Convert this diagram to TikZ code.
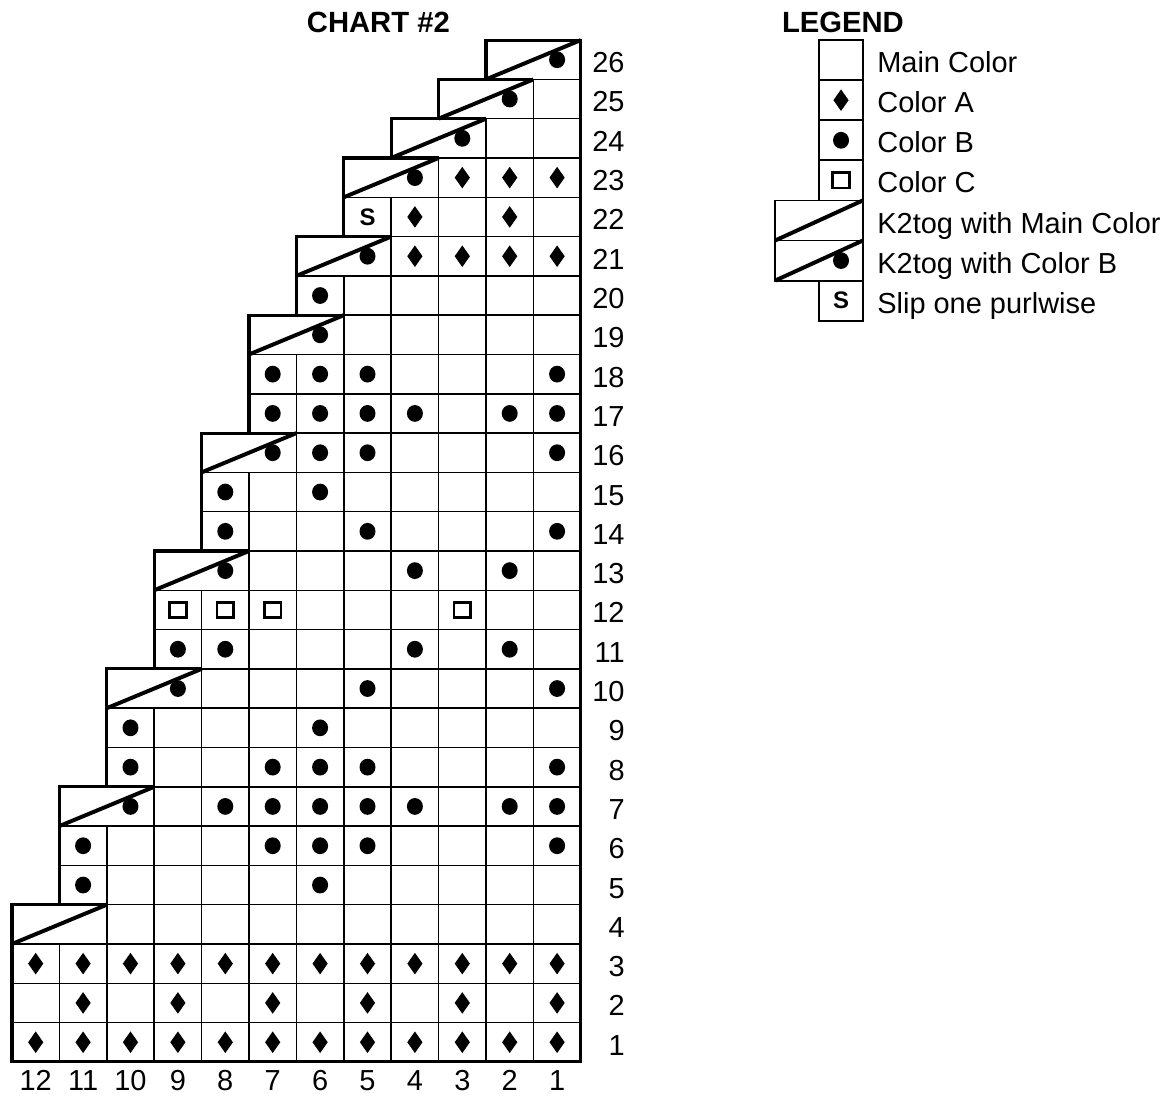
\documentclass[tikz,border=0pt]{standalone}
\usepackage{fontspec}
\setmainfont{Liberation Sans}

\begin{document}
\begin{tikzpicture}[
    x=1.185cm, y=0.9825cm,
    font=\fontsize{20.6}{24}\selectfont,
    gridline/.style={black, line width=1.1pt},
    legline/.style={black, line width=1.3pt},
    outline/.style={black, line width=2.2pt, line join=miter},
    k2line/.style={black, line width=2.8pt},
    sqmark/.style={black, line width=1.9pt},
    numlab/.style={inner sep=0pt},
    title/.style={inner sep=0pt, font=\fontsize{20.8}{24}\selectfont\bfseries},
    slipmark/.style={inner sep=0pt, font=\fontsize{17}{20}\selectfont\bfseries},
  ]

  \useasboundingbox (-0.253,-0.891) rectangle (24.346,27.02);

  % --- titles ---
  \node[title, anchor=base] (charttitle) at (7.73,26.2) {CHART \#2};
  \node[title, anchor=base] (legendtitle) at (17.53,26.2) {LEGEND};

  % --- cells, row by row (row / leftmost stitch / k2tog at the left) ---
  \foreach \r/\L/\K in {1/12/0, 2/12/0, 3/12/0, 4/12/1, 5/11/0, 6/11/0, 7/11/1,
      8/10/0, 9/10/0, 10/10/1, 11/9/0, 12/9/0, 13/9/1, 14/8/0, 15/8/0, 16/8/1,
      17/7/0, 18/7/0, 19/7/1, 20/6/0, 21/6/1, 22/5/0, 23/5/1, 24/4/1, 25/3/1, 26/2/1} {
    \foreach \c in {1,...,\L} {
      \pgfmathtruncatemacro\skipcell{\K*(\c>=\L-1)}
      \ifnum\skipcell=0
        \draw[gridline] ({12-\c},{\r-1}) rectangle ({13-\c},\r);
      \fi
    }
    \ifnum\K=1
      \draw[gridline] ({12-\L},{\r-1}) rectangle ({14-\L},\r);
      \ifnum\r>4
        \fill ({13.5-\L},{\r-0.5}) ellipse [x radius=0.2cm, y radius=0.21cm];
      \fi
      \draw[k2line] ({12-\L},{\r-1}) -- ({14-\L},\r);
      \draw[outline] ({12-\L},\r) -- ({14-\L},\r);
    \fi
  }

  % --- color A ---
  \foreach \r/\cols in {1/{1,...,12}, 2/{11,9,7,5,3,1}, 3/{1,...,12},
      21/{4,3,2,1}, 22/{4,2}, 23/{3,2,1}} {
    \foreach \c in \cols {
      \fill ({12.5-\c},{\r-0.5}) ++(0,0.27cm) -- ++(0.19cm,-0.27cm)
        -- ++(-0.19cm,-0.27cm) -- ++(-0.19cm,0.27cm) -- cycle;
    }
  }

  % --- color B ---
  \foreach \r/\cols in {5/{11,6}, 6/{11,7,6,5,1}, 7/{8,7,6,5,4,2,1},
      8/{10,7,6,5,1}, 9/{10,6}, 10/{5,1}, 11/{9,8,4,2}, 13/{4,2},
      14/{8,5,1}, 15/{8,6}, 16/{6,5,1}, 17/{7,6,5,4,2,1}, 18/{7,6,5,1}, 20/{6}} {
    \foreach \c in \cols {
      \fill ({12.5-\c},{\r-0.5}) ellipse [x radius=0.2cm, y radius=0.21cm];
    }
  }

  % --- color C ---
  \foreach \c in {9,8,7,3} {
    \draw[sqmark] ({12.5-\c},11.5) ++(-0.21cm,-0.19cm) rectangle ++(0.42cm,0.38cm);
  }

  % --- slip ---
  \node[slipmark] (slip22) at (7.5,21.5) {S};

  % --- outline ---
  \draw[outline] (0,0) -- (12,0) -- (12,26) -- (10,26) -- (10,25) -- (9,25)
    -- (9,24) -- (8,24) -- (8,23) -- (7,23) -- (7,21) -- (6,21) -- (6,19)
    -- (5,19) -- (5,16) -- (4,16) -- (4,13) -- (3,13) -- (3,10) -- (2,10)
    -- (2,7) -- (1,7) -- (1,4) -- (0,4) -- cycle;

  % --- numbers ---
  \foreach \r in {1,...,26} {
    \node[numlab, anchor=base east] (row\r) at (12.93,{\r-0.83}) {\r};
  }
  \foreach \c in {1,...,12} {
    \node[numlab, anchor=base] (col\c) at ({12.5-\c},-0.74) {\c};
  }

  % --- legend ---
  \def\lx{17.03} \def\lw{0.92} \def\lh{1.02} \def\lk{16.1}

  \foreach \i/\lab/\wide in {1/Main Color/0, 2/Color A/0, 3/Color B/0, 4/Color C/0,
      5/K2tog with Main Color/1, 6/K2tog with Color B/1, 7/Slip one purlwise/0} {
    \ifnum\wide=1
      \draw[legline] (\lk,{26-\lh*(\i-1)}) rectangle ({\lx+\lw},{26-\lh*\i});
    \else
      \draw[legline] (\lx,{26-\lh*(\i-1)}) rectangle ({\lx+\lw},{26-\lh*\i});
    \fi
    \node[numlab, anchor=base west] (leg\i) at (18.25,{26-\lh*(\i-0.5)-0.32}) {\lab};
  }

  \fill ({\lx+\lw/2},{26-\lh*1.5}) ++(0,0.27cm) -- ++(0.19cm,-0.27cm)
    -- ++(-0.19cm,-0.27cm) -- ++(-0.19cm,0.27cm) -- cycle;
  \fill ({\lx+\lw/2},{26-\lh*2.5}) ellipse [x radius=0.2cm, y radius=0.21cm];
  \draw[sqmark] ({\lx+\lw/2},{26-\lh*3.5}) ++(-0.21cm,-0.19cm) rectangle ++(0.42cm,0.38cm);
  \draw[k2line] (\lk,{26-\lh*5}) -- ({\lx+\lw},{26-\lh*4});
  \fill ({\lx+\lw/2},{26-\lh*5.5}) ellipse [x radius=0.2cm, y radius=0.21cm];
  \draw[k2line] (\lk,{26-\lh*6}) -- ({\lx+\lw},{26-\lh*5});
  \node[slipmark] (legS) at ({\lx+\lw/2},{26-\lh*6.5}) {S};

\end{tikzpicture}
\end{document}
